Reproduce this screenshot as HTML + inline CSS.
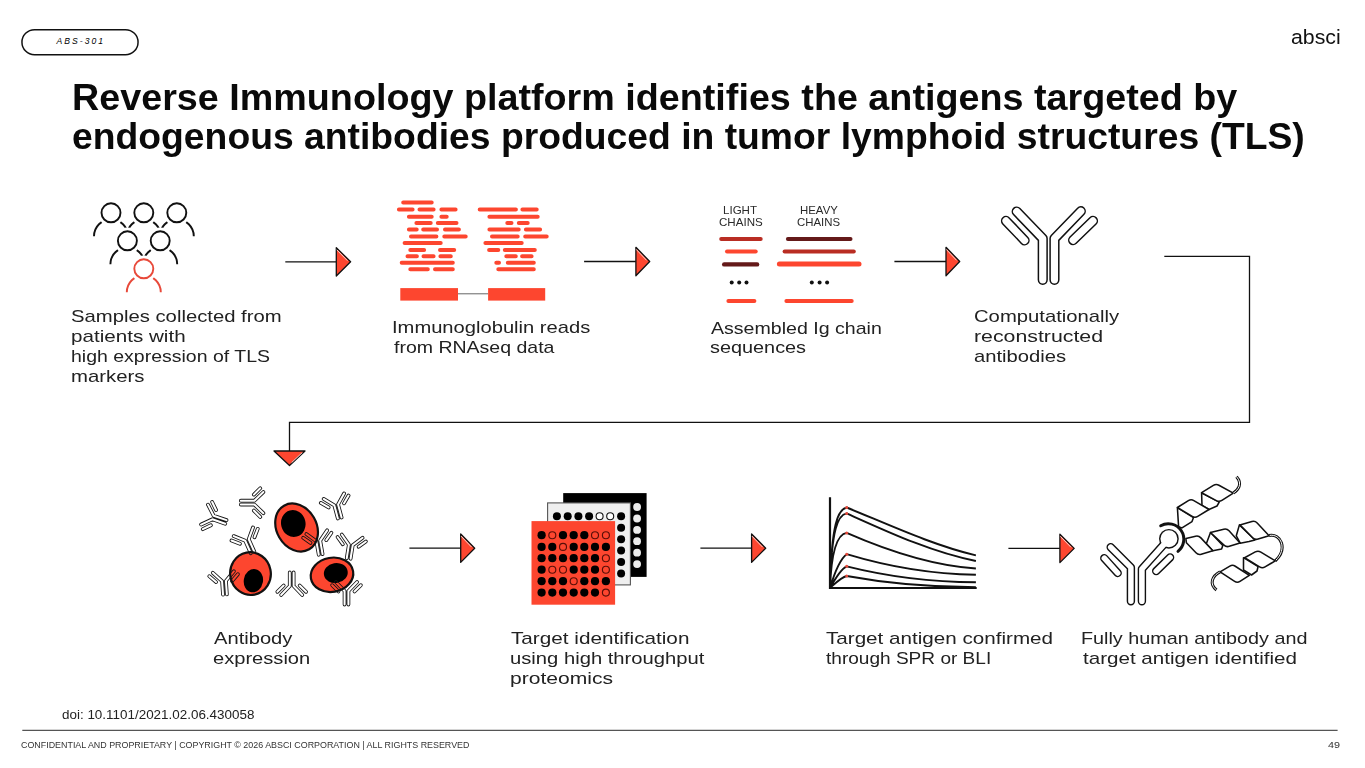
<!DOCTYPE html>
<html><head><meta charset="utf-8"><title>Reverse Immunology</title>
<style>
html,body{margin:0;padding:0;background:#fff;}
body{width:1365px;height:768px;position:relative;overflow:hidden;font-family:"Liberation Sans",sans-serif;}
.t{position:absolute;white-space:nowrap;line-height:1;transform-origin:0 0;}
svg{position:absolute;left:0;top:0;}
</style></head>
<body>
<svg width="1365" height="768" viewBox="0 0 1365 768">
<line x1="285.3" y1="261.8" x2="336.3" y2="261.8" stroke="#111" stroke-width="1.3"/>
<polygon points="336.3,247.6 350.6,261.8 336.3,276.0" fill="#FD462F" stroke="#111" stroke-width="1.3" stroke-linejoin="round"/>
<line x1="336.63" y1="249.68" x2="347.43" y2="260.71" stroke="#fff" stroke-width="0.9" stroke-opacity="0.85"/>
<line x1="584.1" y1="261.5" x2="635.9" y2="261.5" stroke="#111" stroke-width="1.3"/>
<polygon points="635.9,247.3 649.7,261.5 635.9,275.7" fill="#FD462F" stroke="#111" stroke-width="1.3" stroke-linejoin="round"/>
<line x1="636.18" y1="249.38" x2="646.55" y2="260.35" stroke="#fff" stroke-width="0.9" stroke-opacity="0.85"/>
<line x1="894.4" y1="261.5" x2="946" y2="261.5" stroke="#111" stroke-width="1.3"/>
<polygon points="946,247.3 959.7,261.5 946,275.7" fill="#FD462F" stroke="#111" stroke-width="1.3" stroke-linejoin="round"/>
<line x1="946.27" y1="249.38" x2="956.55" y2="260.34" stroke="#fff" stroke-width="0.9" stroke-opacity="0.85"/>
<line x1="409.4" y1="548.2" x2="460.7" y2="548.2" stroke="#111" stroke-width="1.3"/>
<polygon points="460.7,534.0 474.7,548.2 460.7,562.4" fill="#FD462F" stroke="#111" stroke-width="1.3" stroke-linejoin="round"/>
<line x1="461.00" y1="536.08" x2="471.54" y2="547.07" stroke="#fff" stroke-width="0.9" stroke-opacity="0.85"/>
<line x1="700.4" y1="548.2" x2="751.6" y2="548.2" stroke="#111" stroke-width="1.3"/>
<polygon points="751.6,534.0 765.7,548.2 751.6,562.4" fill="#FD462F" stroke="#111" stroke-width="1.3" stroke-linejoin="round"/>
<line x1="751.91" y1="536.08" x2="762.54" y2="547.08" stroke="#fff" stroke-width="0.9" stroke-opacity="0.85"/>
<line x1="1008.4" y1="548.4" x2="1059.9" y2="548.4" stroke="#111" stroke-width="1.3"/>
<polygon points="1059.9,534.2 1074.2,548.4 1059.9,562.6" fill="#FD462F" stroke="#111" stroke-width="1.3" stroke-linejoin="round"/>
<line x1="1060.23" y1="536.28" x2="1071.03" y2="547.31" stroke="#fff" stroke-width="0.9" stroke-opacity="0.85"/>
<polyline points="1164.3,256.4 1249.5,256.4 1249.5,422.3 289.5,422.3 289.5,451" fill="none" stroke="#111" stroke-width="1.3"/>
<polygon points="274,451 305,451 289.5,465.5" fill="#FD462F" stroke="#111" stroke-width="1.3" stroke-linejoin="round"/>
<line x1="302.3" y1="452.6" x2="291.6" y2="462.6" stroke="#fff" stroke-width="0.9" stroke-opacity="0.85"/>
<path d="M94,236.3 A17,17 0 0 1 128,236.3" fill="none" stroke="#111" stroke-width="1.9"/>
<circle cx="111" cy="212.8" r="13.2" fill="#fff"/>
<circle cx="111" cy="212.8" r="9.5" fill="none" stroke="#111" stroke-width="1.9"/>
<path d="M126.80000000000001,236.3 A17,17 0 0 1 160.8,236.3" fill="none" stroke="#111" stroke-width="1.9"/>
<circle cx="143.8" cy="212.8" r="13.2" fill="#fff"/>
<circle cx="143.8" cy="212.8" r="9.5" fill="none" stroke="#111" stroke-width="1.9"/>
<path d="M159.8,236.3 A17,17 0 0 1 193.8,236.3" fill="none" stroke="#111" stroke-width="1.9"/>
<circle cx="176.8" cy="212.8" r="13.2" fill="#fff"/>
<circle cx="176.8" cy="212.8" r="9.5" fill="none" stroke="#111" stroke-width="1.9"/>
<path d="M110.4,264.3 A17,17 0 0 1 144.4,264.3" fill="none" stroke="#111" stroke-width="1.9"/>
<circle cx="127.4" cy="240.8" r="13.2" fill="#fff"/>
<circle cx="127.4" cy="240.8" r="9.5" fill="none" stroke="#111" stroke-width="1.9"/>
<path d="M143.2,264.3 A17,17 0 0 1 177.2,264.3" fill="none" stroke="#111" stroke-width="1.9"/>
<circle cx="160.2" cy="240.8" r="13.2" fill="#fff"/>
<circle cx="160.2" cy="240.8" r="9.5" fill="none" stroke="#111" stroke-width="1.9"/>
<path d="M126.80000000000001,292.3 A17,17 0 0 1 160.8,292.3" fill="none" stroke="#E8493A" stroke-width="1.9"/>
<circle cx="143.8" cy="268.8" r="13.2" fill="#fff"/>
<circle cx="143.8" cy="268.8" r="9.5" fill="none" stroke="#E8493A" stroke-width="1.9"/>
<path d="M403.2,202.4H431.7M398.9,209.6H412.6M419.5,209.6H433.6M441.4,209.6H455.6M479.7,209.6H515.9M522.4,209.6H536.7M408.9,216.8H431.7M441.4,216.8H446.7M489.4,216.8H537.7M416.4,222.9H430.7M437.8,222.9H456.5M507.3,222.9H511.5M518.8,222.9H527.7M408.9,229.4H416.7M423.2,229.4H437.0M445.0,229.4H458.9M489.4,229.4H518.7M525.9,229.4H540.1M411.0,236.5H436.4M444.3,236.5H465.7M492.0,236.5H517.7M525.2,236.5H546.7M404.6,243.0H440.7M485.4,243.0H521.7M410.3,249.9H424.1M440.0,249.9H454.2M489.1,249.9H498.3M504.8,249.9H534.8M407.5,256.3H416.9M423.5,256.3H433.6M440.4,256.3H450.8M506.3,256.3H515.8M522.1,256.3H531.6M401.7,262.8H452.8M496.3,262.8H499.0M507.8,262.8H533.8M410.3,269.2H427.8M435.0,269.2H452.8M498.3,269.2H533.8" stroke="#FD462F" stroke-width="4" stroke-linecap="round" fill="none"/>
<line x1="458" y1="293.8" x2="488" y2="293.8" stroke="#666" stroke-width="1"/>
<rect x="400.3" y="288.1" width="57.7" height="12.5" fill="#FD462F"/>
<rect x="488.1" y="288.1" width="57.1" height="12.5" fill="#FD462F"/>
<line x1="721.2" y1="239.1" x2="760.7" y2="239.1" stroke="#B92D23" stroke-width="4" stroke-linecap="round"/>
<line x1="727.0" y1="251.5" x2="755.7" y2="251.5" stroke="#FD462F" stroke-width="4" stroke-linecap="round"/>
<line x1="724.2" y1="264.4" x2="757.1" y2="264.4" stroke="#641919" stroke-width="4.4" stroke-linecap="round"/>
<line x1="728.4" y1="301" x2="754.4" y2="301" stroke="#FD462F" stroke-width="4" stroke-linecap="round"/>
<line x1="787.9" y1="239.1" x2="850.5" y2="239.1" stroke="#641919" stroke-width="4" stroke-linecap="round"/>
<line x1="784.6" y1="251.5" x2="853.8" y2="251.5" stroke="#B92D23" stroke-width="4" stroke-linecap="round"/>
<line x1="779.4" y1="263.9" x2="859.0" y2="263.9" stroke="#FD462F" stroke-width="5" stroke-linecap="round"/>
<line x1="786.4" y1="301" x2="851.7" y2="301" stroke="#FD462F" stroke-width="4" stroke-linecap="round"/>
<circle cx="731.7" cy="282.6" r="2" fill="#111"/>
<circle cx="739.2" cy="282.6" r="2" fill="#111"/>
<circle cx="746.5" cy="282.6" r="2" fill="#111"/>
<circle cx="811.8" cy="282.6" r="2" fill="#111"/>
<circle cx="819.6" cy="282.6" r="2" fill="#111"/>
<circle cx="827.1" cy="282.6" r="2" fill="#111"/>
<path d="M1016.7,211.5 L1042.75,238.6 L1042.75,279.8" fill="none" stroke="#111" stroke-width="10.2" stroke-linecap="round" stroke-linejoin="round"/>
<path d="M1016.7,211.5 L1042.75,238.6 L1042.75,279.8" fill="none" stroke="#fff" stroke-width="7.199999999999999" stroke-linecap="round" stroke-linejoin="round"/>
<path d="M1080.8,211.2 L1054.45,238.6 L1054.45,279.8" fill="none" stroke="#111" stroke-width="10.2" stroke-linecap="round" stroke-linejoin="round"/>
<path d="M1080.8,211.2 L1054.45,238.6 L1054.45,279.8" fill="none" stroke="#fff" stroke-width="7.199999999999999" stroke-linecap="round" stroke-linejoin="round"/>
<path d="M1006,220.9 L1024.6,240.4" fill="none" stroke="#111" stroke-width="10.2" stroke-linecap="round" stroke-linejoin="round"/>
<path d="M1006,220.9 L1024.6,240.4" fill="none" stroke="#fff" stroke-width="7.199999999999999" stroke-linecap="round" stroke-linejoin="round"/>
<path d="M1093,220.9 L1073.1,240.1" fill="none" stroke="#111" stroke-width="10.2" stroke-linecap="round" stroke-linejoin="round"/>
<path d="M1093,220.9 L1073.1,240.1" fill="none" stroke="#fff" stroke-width="7.199999999999999" stroke-linecap="round" stroke-linejoin="round"/>
<ellipse cx="0" cy="0" rx="19.9" ry="25.2" fill="#FD462F" stroke="#111" stroke-width="2.2" transform="translate(296.6,527.5) rotate(-30)"/>
<ellipse cx="0" cy="0" rx="12.2" ry="13.5" fill="#000" transform="translate(293.3,523.5) rotate(-15)"/>
<ellipse cx="0" cy="0" rx="20.3" ry="21.4" fill="#FD462F" stroke="#111" stroke-width="2.2" transform="translate(250.5,573.6) rotate(-11)"/>
<ellipse cx="0" cy="0" rx="9.6" ry="11.7" fill="#000" transform="translate(253.4,580.7) rotate(10)"/>
<ellipse cx="0" cy="0" rx="21.4" ry="17.1" fill="#FD462F" stroke="#111" stroke-width="2.2" transform="translate(332,574.8) rotate(-10)"/>
<ellipse cx="0" cy="0" rx="12" ry="10" fill="#000" transform="translate(335.8,573) rotate(-10)"/>
<defs><mask id="abm" maskUnits="userSpaceOnUse" x="-70" y="-60" width="140" height="130"><rect x="-70" y="-60" width="140" height="130" fill="#fff"/><path d="M-32,-27.2 L-5.85,0 L-5.85,41.2 M32,-27.2 L5.85,0 L5.85,41.2 M-43.5,-17.7 L-24.2,1.6 M43.5,-17.7 L24.2,1.6" fill="none" stroke="#000" stroke-width="6.2" stroke-linecap="round" stroke-linejoin="round"/></mask><path id="ab" d="M-32,-27.2 L-5.85,0 L-5.85,41.2 M32,-27.2 L5.85,0 L5.85,41.2 M-43.5,-17.7 L-24.2,1.6 M43.5,-17.7 L24.2,1.6" fill="none" stroke="#161616" stroke-width="11.4" stroke-linecap="round" stroke-linejoin="round" mask="url(#abm)"/></defs>
<use href="#ab" transform="translate(213,517.5) rotate(-71) scale(0.33)"/>
<use href="#ab" transform="translate(254.4,502.6) rotate(90) scale(0.33)"/>
<use href="#ab" transform="translate(336.2,504.9) rotate(-15) scale(0.33)"/>
<use href="#ab" transform="translate(318.3,541) rotate(-10) scale(0.33)"/>
<use href="#ab" transform="translate(350.8,545) rotate(9) scale(0.33)"/>
<use href="#ab" transform="translate(346.5,591) rotate(0) scale(0.33)"/>
<use href="#ab" transform="translate(247,540) rotate(-24) scale(0.33)"/>
<use href="#ab" transform="translate(224,581) rotate(-4) scale(0.33)"/>
<use href="#ab" transform="translate(291.7,586) rotate(180) scale(0.33)"/>
<rect x="563.2" y="493.1" width="83.4" height="83.8" fill="#000"/>
<circle cx="637.1" cy="507" r="3.9" fill="#ececec"/>
<circle cx="637.1" cy="518.5" r="3.9" fill="#ececec"/>
<circle cx="637.1" cy="529.9" r="3.9" fill="#ececec"/>
<circle cx="637.1" cy="541.2" r="3.9" fill="#ececec"/>
<circle cx="637.1" cy="552.7" r="3.9" fill="#ececec"/>
<circle cx="637.1" cy="564.1" r="3.9" fill="#ececec"/>
<rect x="547.6" y="502.9" width="82.8" height="82" fill="#efefef" stroke="#555" stroke-width="1.1"/>
<circle cx="556.9" cy="516.3" r="4" fill="#000"/>
<circle cx="567.7" cy="516.3" r="4" fill="#000"/>
<circle cx="578.4" cy="516.3" r="4" fill="#000"/>
<circle cx="589.1" cy="516.3" r="4" fill="#000"/>
<circle cx="599.6" cy="516.3" r="3.5" fill="#fff" stroke="#111" stroke-width="1.1"/>
<circle cx="610.2" cy="516.3" r="3.5" fill="#fff" stroke="#111" stroke-width="1.1"/>
<circle cx="621.1" cy="516.3" r="4" fill="#000"/>
<circle cx="621.1" cy="527.7" r="4" fill="#000"/>
<circle cx="621.1" cy="539.2" r="4" fill="#000"/>
<circle cx="621.1" cy="550.5" r="4" fill="#000"/>
<circle cx="621.1" cy="562" r="4" fill="#000"/>
<circle cx="621.1" cy="573.4" r="4" fill="#000"/>
<rect x="531.5" y="521.1" width="83.6" height="83.6" fill="#FD462F"/>
<circle cx="541.6" cy="535.2" r="4.1" fill="#000"/>
<circle cx="552.3" cy="535.2" r="3.5" fill="none" stroke="#5a0f08" stroke-width="1.15"/>
<circle cx="563" cy="535.2" r="4.1" fill="#000"/>
<circle cx="573.7" cy="535.2" r="4.1" fill="#000"/>
<circle cx="584.3" cy="535.2" r="4.1" fill="#000"/>
<circle cx="595" cy="535.2" r="3.5" fill="none" stroke="#5a0f08" stroke-width="1.15"/>
<circle cx="605.9" cy="535.2" r="3.5" fill="none" stroke="#5a0f08" stroke-width="1.15"/>
<circle cx="541.6" cy="546.9" r="4.1" fill="#000"/>
<circle cx="552.3" cy="546.9" r="4.1" fill="#000"/>
<circle cx="563" cy="546.9" r="3.5" fill="none" stroke="#5a0f08" stroke-width="1.15"/>
<circle cx="573.7" cy="546.9" r="4.1" fill="#000"/>
<circle cx="584.3" cy="546.9" r="4.1" fill="#000"/>
<circle cx="595" cy="546.9" r="4.1" fill="#000"/>
<circle cx="605.9" cy="546.9" r="4.1" fill="#000"/>
<circle cx="541.6" cy="558.2" r="4.1" fill="#000"/>
<circle cx="552.3" cy="558.2" r="4.1" fill="#000"/>
<circle cx="563" cy="558.2" r="4.1" fill="#000"/>
<circle cx="573.7" cy="558.2" r="4.1" fill="#000"/>
<circle cx="584.3" cy="558.2" r="4.1" fill="#000"/>
<circle cx="595" cy="558.2" r="4.1" fill="#000"/>
<circle cx="605.9" cy="558.2" r="3.5" fill="none" stroke="#5a0f08" stroke-width="1.15"/>
<circle cx="541.6" cy="569.7" r="4.1" fill="#000"/>
<circle cx="552.3" cy="569.7" r="3.5" fill="none" stroke="#5a0f08" stroke-width="1.15"/>
<circle cx="563" cy="569.7" r="3.5" fill="none" stroke="#5a0f08" stroke-width="1.15"/>
<circle cx="573.7" cy="569.7" r="4.1" fill="#000"/>
<circle cx="584.3" cy="569.7" r="4.1" fill="#000"/>
<circle cx="595" cy="569.7" r="4.1" fill="#000"/>
<circle cx="605.9" cy="569.7" r="3.5" fill="none" stroke="#5a0f08" stroke-width="1.15"/>
<circle cx="541.6" cy="581.2" r="4.1" fill="#000"/>
<circle cx="552.3" cy="581.2" r="4.1" fill="#000"/>
<circle cx="563" cy="581.2" r="4.1" fill="#000"/>
<circle cx="573.7" cy="581.2" r="3.5" fill="none" stroke="#5a0f08" stroke-width="1.15"/>
<circle cx="584.3" cy="581.2" r="4.1" fill="#000"/>
<circle cx="595" cy="581.2" r="4.1" fill="#000"/>
<circle cx="605.9" cy="581.2" r="4.1" fill="#000"/>
<circle cx="541.6" cy="592.6" r="4.1" fill="#000"/>
<circle cx="552.3" cy="592.6" r="4.1" fill="#000"/>
<circle cx="563" cy="592.6" r="4.1" fill="#000"/>
<circle cx="573.7" cy="592.6" r="4.1" fill="#000"/>
<circle cx="584.3" cy="592.6" r="4.1" fill="#000"/>
<circle cx="595" cy="592.6" r="4.1" fill="#000"/>
<circle cx="605.9" cy="592.6" r="3.5" fill="none" stroke="#5a0f08" stroke-width="1.15"/>
<path d="M830,497.3 V588 H976.7" fill="none" stroke="#111" stroke-width="2.2"/>
<path d="M830,588 C831.5,523.6 838.0,509.1 846.7,507.5 C889.0,524.7 932.0,544.9 975.9,555.4 M830,588 C831.5,528.3 838.0,514.9 846.7,513.4 C889.0,532.4 932.0,552.4 975.9,561.0 M830,588 C831.5,548.3 838.0,534.0 846.7,532.9 C889.0,551.4 932.0,565.7 975.9,568.5 M830,588 C835.0,571.1 841.0,558.3 846.7,554.2 C889.0,567.0 932.0,574.2 975.9,574.8 M830,588 C835.0,578.9 841.0,568.9 846.7,566.3 C889.0,576.9 932.0,582.0 975.9,582.3 M830,588 C835.0,583.7 841.0,577.4 846.7,576.0 C889.0,583.8 932.0,587.2 975.9,587.2 " fill="none" stroke="#111" stroke-width="1.9"/>
<circle cx="846.7" cy="507.5" r="1.5" fill="#e8493a"/>
<circle cx="846.7" cy="513.4" r="1.5" fill="#e8493a"/>
<circle cx="846.7" cy="532.9" r="1.5" fill="#e8493a"/>
<circle cx="846.7" cy="554.2" r="1.5" fill="#e8493a"/>
<circle cx="846.7" cy="566.3" r="1.5" fill="#e8493a"/>
<circle cx="846.7" cy="576" r="1.5" fill="#e8493a"/>
<path d="M1141.9,601.3 L1141.9,569 L1168.9,538.8" fill="none" stroke="#111" stroke-width="8.4" stroke-linecap="round" stroke-linejoin="round"/>
<circle cx="1168.9" cy="538.8" r="9.9" fill="#111"/>
<path d="M1141.9,601.3 L1141.9,569 L1168.9,538.8" fill="none" stroke="#fff" stroke-width="5.6" stroke-linecap="round" stroke-linejoin="round"/>
<circle cx="1168.9" cy="538.8" r="8.45" fill="#fff"/>
<path d="M1110.7,547.2 L1130.9,567.4 L1130.9,601.3" fill="none" stroke="#111" stroke-width="8.4" stroke-linecap="round" stroke-linejoin="round"/>
<path d="M1110.7,547.2 L1130.9,567.4 L1130.9,601.3" fill="none" stroke="#fff" stroke-width="5.5" stroke-linecap="round" stroke-linejoin="round"/>
<path d="M1104.3,558.2 L1117.7,573.0" fill="none" stroke="#111" stroke-width="8.4" stroke-linecap="round" stroke-linejoin="round"/>
<path d="M1104.3,558.2 L1117.7,573.0" fill="none" stroke="#fff" stroke-width="5.5" stroke-linecap="round" stroke-linejoin="round"/>
<path d="M1170.1,557.4 L1156.2,571.1" fill="none" stroke="#111" stroke-width="8.4" stroke-linecap="round" stroke-linejoin="round"/>
<path d="M1170.1,557.4 L1156.2,571.1" fill="none" stroke="#fff" stroke-width="5.5" stroke-linecap="round" stroke-linejoin="round"/>
<polygon points="1177.4,507.7 1193.5,517.6 1192,521.6 1182,527.9 1178.6,526.7" fill="#fff" stroke="#111" stroke-width="1.55" stroke-linejoin="round"/>
<polygon points="1201.6,492.7 1219.2,502.1 1217,506 1209,509.5 1202,505.4" fill="#fff" stroke="#111" stroke-width="1.55" stroke-linejoin="round"/>
<path d="M1177.4,507.5 L1188.38,500.69 Q1191.1,499 1193.86,500.62 L1209,509.5 L1197.73,516.43 Q1195,518.1 1192.26,516.45 Z" fill="#fff" stroke="#111" stroke-width="1.55" stroke-linejoin="round"/>
<path d="M1201.6,492.7 L1213.38,485.39 Q1216.1,483.7 1218.91,485.23 L1233.3,493.1 L1221.90,500.38 Q1219.2,502.1 1216.38,500.59 Z" fill="#fff" stroke="#111" stroke-width="1.55" stroke-linejoin="round"/>
<path d="M1233.3,493.1 C1238,490 1243,484 1236.5,476.7" fill="none" stroke="#111" stroke-width="3" stroke-linecap="butt"/>
<path d="M1233.3,493.1 C1238,490 1243,484 1236.5,476.7" fill="none" stroke="#fff" stroke-width="1" stroke-linecap="butt"/>
<polygon points="1210.5,532.5 1222.8,545.5 1221.6,549 1212.8,550.7 1206.3,543.7" fill="#fff" stroke="#111" stroke-width="1.55" stroke-linejoin="round"/>
<polygon points="1239.4,524.9 1255,540 1249,541.6 1240.2,543.2 1236.3,535.8" fill="#fff" stroke="#111" stroke-width="1.55" stroke-linejoin="round"/>
<polygon points="1243.5,557.7 1258.1,566.5 1257,571 1251.5,575 1243.5,570" fill="#fff" stroke="#111" stroke-width="1.55" stroke-linejoin="round"/>
<path d="M1269.1,535.5 C1281,533 1288,549 1275.3,560.8" fill="none" stroke="#111" stroke-width="3" stroke-linecap="butt"/>
<path d="M1269.1,535.5 C1281,533 1288,549 1275.3,560.8" fill="none" stroke="#fff" stroke-width="1" stroke-linecap="butt"/>
<path d="M1220.1,571.8 C1212,576 1209,584 1216.5,590" fill="none" stroke="#111" stroke-width="3" stroke-linecap="butt"/>
<path d="M1220.1,571.8 C1212,576 1209,584 1216.5,590" fill="none" stroke="#fff" stroke-width="1" stroke-linecap="butt"/>
<path d="M1185.9,538.4 L1195.58,536.21 Q1198.7,535.5 1200.88,537.85 L1212.8,550.7 L1201.26,554.18 Q1198.2,555.1 1195.98,552.79 L1186.4,542.8 Z" fill="#fff" stroke="#111" stroke-width="1.55" stroke-linejoin="round"/>
<path d="M1210.5,532.5 L1223.80,529.18 Q1226.9,528.4 1229.04,530.78 L1240,543 L1229.35,546.34 Q1226.3,547.3 1223.96,545.11 Z" fill="#fff" stroke="#111" stroke-width="1.55" stroke-linejoin="round"/>
<path d="M1239.9,524.9 L1251.92,521.56 Q1255,520.7 1257.18,523.04 L1269.1,535.8 L1258.07,539.09 Q1255,540 1252.74,537.74 Z" fill="#fff" stroke="#111" stroke-width="1.55" stroke-linejoin="round"/>
<path d="M1244.6,557.7 L1255.29,551.92 Q1258.1,550.4 1260.84,552.06 L1275.3,560.8 L1265.04,566.95 Q1262.3,568.6 1259.58,566.92 Z" fill="#fff" stroke="#111" stroke-width="1.55" stroke-linejoin="round"/>
<path d="M1220.1,571.8 L1229.84,566.11 Q1232.6,564.5 1235.28,566.25 L1249.3,575.4 L1239.98,581.46 Q1237.3,583.2 1234.63,581.43 Z" fill="#fff" stroke="#111" stroke-width="1.55" stroke-linejoin="round"/>
<path d="M1160.7,525.7 A15.5,15.5 0 0 1 1178,551.3" fill="none" stroke="#111" stroke-width="3" stroke-linecap="round"/>
<rect x="21.95" y="29.65" width="116.1" height="25.1" rx="12.55" fill="none" stroke="#111" stroke-width="1.5"/>
<line x1="22.3" y1="730.4" x2="1337.6" y2="730.4" stroke="#555" stroke-width="1.2"/>
</svg>
<div class="t" style="left:72.20px;top:80.10px;font-size:36.5px;font-weight:700;color:#0a0a0a;font-style:normal;transform:scaleX(1.0333)">Reverse Immunology platform identifies the antigens targeted by</div>
<div class="t" style="left:72.00px;top:118.70px;font-size:36.5px;font-weight:700;color:#0a0a0a;font-style:normal;transform:scaleX(1.0217)">endogenous antibodies produced in tumor lymphoid structures (TLS)</div>
<div class="t" style="left:1291.20px;top:27.66px;font-size:19.3px;font-weight:400;color:#111;font-style:normal;transform:scaleX(1.1046)">absci</div>
<div class="t" style="left:71.40px;top:307.61px;font-size:17px;font-weight:400;color:#222222;font-style:normal;transform:scaleX(1.1921)">Samples collected from</div>
<div class="t" style="left:71.40px;top:327.61px;font-size:17px;font-weight:400;color:#222222;font-style:normal;transform:scaleX(1.2130)">patients with</div>
<div class="t" style="left:71.40px;top:347.91px;font-size:17px;font-weight:400;color:#222222;font-style:normal;transform:scaleX(1.1466)">high expression of TLS</div>
<div class="t" style="left:71.40px;top:368.11px;font-size:17px;font-weight:400;color:#222222;font-style:normal;transform:scaleX(1.1961)">markers</div>
<div class="t" style="left:391.60px;top:319.31px;font-size:17px;font-weight:400;color:#222222;font-style:normal;transform:scaleX(1.1852)">Immunoglobulin reads</div>
<div class="t" style="left:393.60px;top:339.41px;font-size:17px;font-weight:400;color:#222222;font-style:normal;transform:scaleX(1.1470)">from RNAseq data</div>
<div class="t" style="left:711.00px;top:319.61px;font-size:17px;font-weight:400;color:#222222;font-style:normal;transform:scaleX(1.1512)">Assembled Ig chain</div>
<div class="t" style="left:710.00px;top:339.41px;font-size:17px;font-weight:400;color:#222222;font-style:normal;transform:scaleX(1.1677)">sequences</div>
<div class="t" style="left:973.80px;top:308.11px;font-size:17px;font-weight:400;color:#222222;font-style:normal;transform:scaleX(1.1912)">Computationally</div>
<div class="t" style="left:973.80px;top:328.11px;font-size:17px;font-weight:400;color:#222222;font-style:normal;transform:scaleX(1.2527)">reconstructed</div>
<div class="t" style="left:973.80px;top:348.11px;font-size:17px;font-weight:400;color:#222222;font-style:normal;transform:scaleX(1.1898)">antibodies</div>
<div class="t" style="left:214.00px;top:630.11px;font-size:17px;font-weight:400;color:#222222;font-style:normal;transform:scaleX(1.1848)">Antibody</div>
<div class="t" style="left:213.00px;top:650.11px;font-size:17px;font-weight:400;color:#222222;font-style:normal;transform:scaleX(1.1828)">expression</div>
<div class="t" style="left:510.60px;top:630.11px;font-size:17px;font-weight:400;color:#222222;font-style:normal;transform:scaleX(1.2179)">Target identification</div>
<div class="t" style="left:509.60px;top:650.11px;font-size:17px;font-weight:400;color:#222222;font-style:normal;transform:scaleX(1.1888)">using high throughput</div>
<div class="t" style="left:509.60px;top:670.31px;font-size:17px;font-weight:400;color:#222222;font-style:normal;transform:scaleX(1.2394)">proteomics</div>
<div class="t" style="left:825.80px;top:630.11px;font-size:17px;font-weight:400;color:#222222;font-style:normal;transform:scaleX(1.2133)">Target antigen confirmed</div>
<div class="t" style="left:825.80px;top:650.11px;font-size:17px;font-weight:400;color:#222222;font-style:normal;transform:scaleX(1.1207)">through SPR or BLI</div>
<div class="t" style="left:1081.20px;top:630.11px;font-size:17px;font-weight:400;color:#222222;font-style:normal;transform:scaleX(1.1631)">Fully human antibody and</div>
<div class="t" style="left:1083.20px;top:650.11px;font-size:17px;font-weight:400;color:#222222;font-style:normal;transform:scaleX(1.2108)">target antigen identified</div>
<div class="t" style="left:722.80px;top:204.51px;font-size:11.8px;font-weight:400;color:#2a2a2a;font-style:normal;transform:scaleX(0.9793)">LIGHT</div>
<div class="t" style="left:718.80px;top:217.21px;font-size:11.8px;font-weight:400;color:#2a2a2a;font-style:normal;transform:scaleX(0.9804)">CHAINS</div>
<div class="t" style="left:799.60px;top:204.51px;font-size:11.8px;font-weight:400;color:#2a2a2a;font-style:normal;transform:scaleX(0.9677)">HEAVY</div>
<div class="t" style="left:797.40px;top:217.21px;font-size:11.8px;font-weight:400;color:#2a2a2a;font-style:normal;transform:scaleX(0.9663)">CHAINS</div>
<div class="t" style="left:61.80px;top:709.42px;font-size:12.5px;font-weight:400;color:#222222;font-style:normal;transform:scaleX(1.0743)">doi: 10.1101/2021.02.06.430058</div>
<div class="t" style="left:21.20px;top:741.14px;font-size:8.7px;font-weight:400;color:#333;font-style:normal;transform:scaleX(1.0238)">CONFIDENTIAL AND PROPRIETARY | COPYRIGHT © 2026 ABSCI CORPORATION | ALL RIGHTS RESERVED</div>
<div class="t" style="left:1328.40px;top:740.64px;font-size:8.7px;font-weight:400;color:#333;font-style:normal;transform:scaleX(1.2435)">49</div>
<div class="t" style="left:56.40px;top:37.12px;font-size:8.6px;font-weight:400;letter-spacing:2.05px;color:#000;font-style:italic;transform:scaleX(1.0000)">ABS-301</div>
</body></html>
